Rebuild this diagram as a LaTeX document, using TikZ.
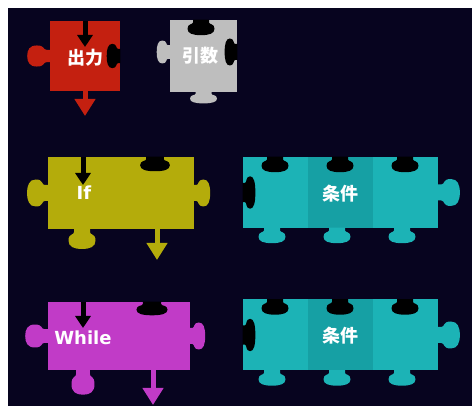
\documentclass[tikz,border=0pt]{standalone}
\usepackage{fontspec}
\setmainfont{DejaVu Sans}
\newfontfamily\cjk{Noto Sans CJK JP}
\usetikzlibrary{arrows.meta}
\definecolor{PzNight}{HTML}{07041F}
\definecolor{PzRed}{HTML}{C42010}
\definecolor{PzGrey}{HTML}{BEBEBE}
\definecolor{PzOlive}{HTML}{B4AC0B}
\definecolor{PzTeal}{HTML}{1CB3B6}
\definecolor{PzTealDark}{HTML}{16A0A4}
\definecolor{PzPlum}{HTML}{C13BC7}

\begin{document}
\begin{tikzpicture}[
    x=1pt,y=1pt,
    body/.style={rectangle,inner sep=0pt,outer sep=0pt},
    knob/.pic={\fill (-0.5,-8) -- (3,-8) .. controls (6,-8) and (4,-13.5) .. (11,-13.5)
      .. controls (17,-13.5) and (19,-8) .. (19,0) .. controls (19,8) and (17,13.5) .. (11,13.5)
      .. controls (4,13.5) and (6,8) .. (3,8) -- (-0.5,8) -- cycle;},
    notch/.style={black},
    inarrow/.style={line width=5pt,draw=black,-{Triangle[width=15pt,length=12pt]}},
    outarrow/.style={line width=5pt,-{Triangle[width=20pt,length=17pt]}},
    cjklabel/.style={text=white,font=\cjk\bfseries\fontsize{18}{20}\selectfont,inner sep=0pt},
    latinlabel/.style={text=white,font=\bfseries\fontsize{18}{20}\selectfont,inner sep=0pt}
  ]
  \path[use as bounding box] (0,0) rectangle (472,-406);
  \fill[PzNight] (8,-8) rectangle (472,-406);

  % output / argument
  \node[body,fill=PzRed,minimum width=70,minimum height=70] (out) at (85,-56) {};
  \pic[PzRed,rotate=180,xscale=1.2,yscale=0.78] at (out.west) {knob};
  \pic[notch,rotate=180,xscale=0.7,yscale=0.9] at (out.east) {knob};
  \coordinate (outin) at (85,-47);
  \coordinate (outtip) at (85,-116);
  \draw[inarrow] (out.north) -- (outin);
  \draw[outarrow,PzRed] (out.south) -- (outtip);
  \node[cjklabel] (outlbl) at (85,-58) {出力};

  \node[body,fill=PzGrey,minimum width=67,minimum height=72] (arg) at (203.5,-56) {};
  \pic[PzGrey,rotate=180,xscale=0.7,yscale=0.85] at ([yshift=4]arg.west) {knob};
  \pic[PzGrey,rotate=-90,xscale=0.6] at (arg.south) {knob};
  \pic[notch,rotate=-90,xscale=0.8] at ([xshift=-2.5]arg.north) {knob};
  \pic[notch,rotate=180,xscale=0.65] at ([yshift=4]arg.east) {knob};
  \node[cjklabel] (arglbl) at (200,-56) {引数};

  % if
  \node[body,fill=PzOlive,minimum width=146,minimum height=72] (if) at (121,-193) {};
  \pic[PzOlive,rotate=180,xscale=1.1] at (if.west) {knob};
  \pic[PzOlive,xscale=0.85] at (if.east) {knob};
  \pic[PzOlive,rotate=-90,xscale=1.05] at ([xshift=-39]if.south) {knob};
  \pic[notch,rotate=-90,xscale=0.75,yscale=1.1] at ([xshift=34]if.north) {knob};
  \coordinate (ifin) at (83,-185);
  \coordinate (iftip) at (157,-260);
  \draw[inarrow] ([xshift=-38]if.north) -- (ifin);
  \draw[outarrow,PzOlive] ([xshift=36]if.south) -- (iftip);
  \node[latinlabel] (iflbl) at (84,-193) {If};

  % while
  \node[body,fill=PzPlum,minimum width=142,minimum height=68] (while) at (119,-336) {};
  \pic[PzPlum,rotate=180,xscale=1.2,yscale=0.85] at (while.west) {knob};
  \pic[PzPlum,xscale=0.8] at (while.east) {knob};
  \pic[PzPlum,rotate=-90,xscale=1.3,yscale=0.85] at ([xshift=-36]while.south) {knob};
  \pic[notch,rotate=-90,xscale=0.7,yscale=1.15] at ([xshift=33]while.north) {knob};
  \coordinate (whilein) at (83,-328);
  \coordinate (whiletip) at (153,-405);
  \draw[inarrow] ([xshift=-36]while.north) -- (whilein);
  \draw[outarrow,PzPlum] ([xshift=34]while.south) -- (whiletip);
  \node[latinlabel] (whilelbl) at (83,-338) {While};

  % conditions
  \foreach \name/\cy in {cond1/-192.5,cond2/-335} {
    \node[body,fill=PzTeal,minimum width=195,minimum height=71] (\name) at (340.5,\cy) {};
    \fill[PzTealDark] ([xshift=65]\name.north west) rectangle ([xshift=130]\name.south west);
    \foreach \dx in {0,65,130} {
      \pic[PzTeal,rotate=-90,xscale=0.8] at ([xshift=\dx+29]\name.south west) {knob};
      \pic[notch,rotate=-90,xscale=0.8] at ([xshift=\dx+32]\name.north west) {knob};
    }
    \pic[PzTeal,xscale=1.15] at (\name.east) {knob};
    \pic[notch,xscale=0.65,yscale=1.2] at (\name.west) {knob};
    \node[cjklabel] (\name lbl) at (340,\cy-1) {条件};
  }
\end{tikzpicture}
\end{document}
